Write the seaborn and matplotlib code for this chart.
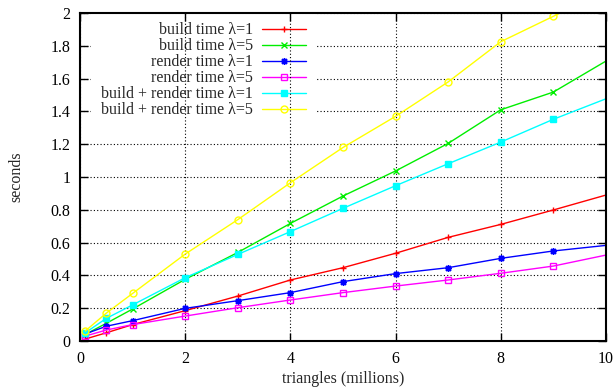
import matplotlib
matplotlib.use('Agg')
import matplotlib.pyplot as plt
import seaborn as sns

# timings (seconds) against scene size (millions of triangles)
triangles = [0.1, 0.5, 1, 2, 3, 4, 5, 6, 7, 8, 9, 10]
build_l1 = [0.012, 0.05, 0.10, 0.185, 0.274, 0.372, 0.447, 0.535, 0.632, 0.711, 0.799, 0.89]
build_l5 = [0.04, 0.108, 0.195, 0.376, 0.54, 0.717, 0.884, 1.037, 1.205, 1.41, 1.518, 1.707]
render_l1 = [0.043, 0.09, 0.124, 0.199, 0.246, 0.295, 0.362, 0.411, 0.447, 0.504, 0.549, 0.583]
render_l5 = [0.03, 0.067, 0.10, 0.152, 0.203, 0.25, 0.295, 0.335, 0.372, 0.413, 0.457, 0.524]
total_l1 = [0.05, 0.138, 0.22, 0.386, 0.528, 0.667, 0.809, 0.947, 1.081, 1.213, 1.352, 1.477]
total_l5 = [0.061, 0.17, 0.29, 0.53, 0.74, 0.965, 1.18, 1.37, 1.58, 1.825, 1.98, 2.13]

labels = ['build time λ=1', 'build time λ=5', 'render time λ=1',
          'render time λ=5', 'build + render time λ=1', 'build + render time λ=5']
series = [build_l1, build_l5, render_l1, render_l5, total_l1, total_l5]
colors = ['#ff0000', '#00ee00', '#0000ff', '#ff00ff', '#00ffff', '#ffff00']
markers = ['+', 'x', (8, 2, 0), 's', 's', 'o']
facecolors = ['none', 'none', 'none', 'none', '#00ffff', 'none']

sns.set_style('ticks')
plt.rcParams['font.family'] = ['Liberation Serif', 'DejaVu Serif']
plt.rcParams['font.size'] = 11.5

fig = plt.figure(figsize=(6.16, 3.88), dpi=100)
ax = fig.add_axes([80 / 616, 1 - 341 / 388, 526 / 616, 328 / 388])

for vals, name, c, m, fc in zip(series, labels, colors, markers, facecolors):
    sns.lineplot(x=triangles, y=vals, ax=ax, color=c, marker=m, markersize=5,
                 markerfacecolor=fc, markeredgecolor=c, markeredgewidth=1,
                 linewidth=1, label=name, errorbar=None)

ax.set_xlim(0, 10)
ax.set_ylim(0, 2)
ax.set_xticks([0, 2, 4, 6, 8, 10])
ax.set_yticks([0, 0.2, 0.4, 0.6, 0.8, 1, 1.2, 1.4, 1.6, 1.8, 2])
ax.set_yticklabels(['0', '0.2', '0.4', '0.6', '0.8', '1', '1.2', '1.4', '1.6', '1.8', '2'])
ax.grid(True, color='black', linestyle=(0, (1, 2)), linewidth=0.8)
ax.tick_params(direction='in', top=True, right=True, length=6, width=1,
               colors='black', labelsize=11.5, pad=7)
for sp in ax.spines.values():
    sp.set_visible(True)
    sp.set_linewidth(1.5)
    sp.set_color('black')

ax.set_xlabel('triangles (millions)', fontsize=11.5)
ax.set_ylabel('seconds', fontsize=11.5)
ax.xaxis.set_label_coords(0.5, -0.09)
ax.yaxis.set_label_coords(-0.105, 0.5)

leg = ax.legend(loc='upper right', bbox_to_anchor=(316 / 616, 1 - 12 / 388),
                bbox_transform=fig.transFigure, markerfirst=False, numpoints=1,
                frameon=True, fancybox=False, facecolor='white', edgecolor='none',
                framealpha=1, fontsize=11.5, handlelength=2.7, handletextpad=0.6,
                labelspacing=0.0, borderpad=0.65, borderaxespad=0)
# white key box hides horizontal grid lines, vertical ones stay on top
leg.set_zorder(0.6)
ax.xaxis.set_zorder(0.8)
ax.yaxis.set_zorder(0.4)

# last sample sits past the border in the original, no marker shown there
for line in ax.lines:
    line.set_markevery(list(range(len(triangles) - 1)))

fig.savefig('out.png', dpi=100)
